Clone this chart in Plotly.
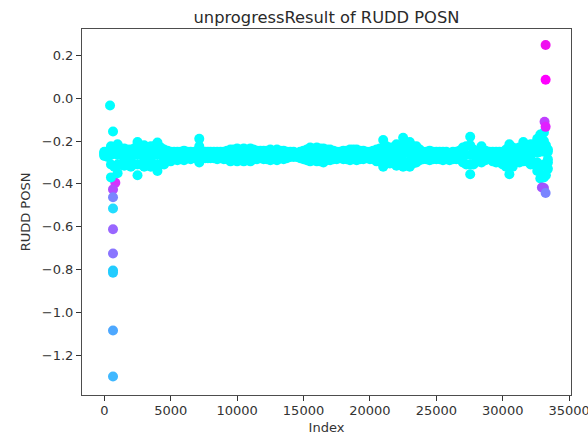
import plotly.graph_objects as go

# cyan band, one column of readings per index position
band_index = [0, 500, 1000, 1500, 2000, 2500, 3000, 3500, 4000, 4500, 5000, 5500, 6000, 6500,
              7150, 7600, 8000, 8500, 9000, 9500, 10000, 10500, 11000, 11500, 12000, 12500, 13000, 13500,
              14000, 14500, 15000, 15500, 16000, 16500, 17000, 17500, 18000, 18500, 19000, 19500, 20000, 20500,
              21000, 21500, 22000, 22500, 23000, 23500, 24000, 24500, 25000, 25500, 26000, 26500, 27000, 27550,
              28000, 28400, 29000, 29500, 30000, 30500, 31000, 31550, 32100, 32600, 32830, 33100, 33400]
band_top = [-0.25, -0.225, -0.215, -0.235, -0.24, -0.205, -0.22, -0.225, -0.207, -0.24, -0.25, -0.25, -0.245, -0.25,
            -0.19, -0.25, -0.25, -0.25, -0.25, -0.24, -0.235, -0.235, -0.235, -0.245, -0.245, -0.24, -0.24, -0.245,
            -0.25, -0.255, -0.245, -0.23, -0.23, -0.235, -0.24, -0.25, -0.245, -0.24, -0.24, -0.245, -0.25, -0.24,
            -0.195, -0.23, -0.215, -0.185, -0.205, -0.225, -0.25, -0.245, -0.25, -0.25, -0.255, -0.25, -0.23, -0.18,
            -0.25, -0.225, -0.25, -0.25, -0.25, -0.215, -0.235, -0.205, -0.215, -0.19, -0.17, -0.16, -0.24]
band_upper = [-0.255, -0.24, -0.235, -0.25, -0.25, -0.235, -0.24, -0.24, -0.235, -0.25, -0.255, -0.255, -0.255, -0.255,
              -0.225, -0.255, -0.255, -0.255, -0.255, -0.25, -0.25, -0.25, -0.25, -0.255, -0.255, -0.25, -0.25, -0.255,
              -0.255, -0.26, -0.255, -0.245, -0.245, -0.25, -0.25, -0.255, -0.255, -0.25, -0.25, -0.255, -0.255, -0.25,
              -0.23, -0.245, -0.24, -0.225, -0.235, -0.245, -0.255, -0.255, -0.255, -0.255, -0.26, -0.255, -0.245, -0.22,
              -0.255, -0.245, -0.255, -0.255, -0.255, -0.24, -0.25, -0.235, -0.24, -0.225, -0.21, -0.2, -0.25]
band_mid = [-0.26, -0.265, -0.265, -0.265, -0.265, -0.265, -0.265, -0.265, -0.265, -0.265, -0.265, -0.265, -0.265, -0.265,
            -0.26, -0.265, -0.265, -0.265, -0.265, -0.265, -0.265, -0.265, -0.265, -0.265, -0.265, -0.265, -0.265, -0.265,
            -0.265, -0.265, -0.265, -0.265, -0.265, -0.265, -0.265, -0.265, -0.265, -0.265, -0.265, -0.265, -0.265, -0.265,
            -0.26, -0.265, -0.26, -0.26, -0.26, -0.265, -0.265, -0.265, -0.265, -0.265, -0.265, -0.265, -0.265, -0.265,
            -0.265, -0.265, -0.265, -0.265, -0.265, -0.27, -0.265, -0.26, -0.26, -0.255, -0.25, -0.25, -0.285]
band_lower = [-0.265, -0.31, -0.31, -0.29, -0.29, -0.31, -0.29, -0.29, -0.31, -0.285, -0.28, -0.28, -0.28, -0.28,
              -0.28, -0.275, -0.275, -0.275, -0.275, -0.28, -0.28, -0.28, -0.28, -0.275, -0.275, -0.28, -0.28, -0.275,
              -0.27, -0.27, -0.275, -0.28, -0.28, -0.28, -0.275, -0.275, -0.275, -0.28, -0.28, -0.275, -0.275, -0.28,
              -0.295, -0.285, -0.29, -0.295, -0.295, -0.285, -0.275, -0.28, -0.275, -0.275, -0.275, -0.275, -0.28, -0.31,
              -0.275, -0.285, -0.275, -0.28, -0.285, -0.31, -0.285, -0.28, -0.285, -0.3, -0.32, -0.31, -0.3]
band_bottom = [-0.27, -0.37, -0.35, -0.315, -0.32, -0.36, -0.32, -0.32, -0.34, -0.31, -0.295, -0.29, -0.29, -0.285,
               -0.30, -0.28, -0.28, -0.285, -0.285, -0.295, -0.295, -0.295, -0.295, -0.285, -0.285, -0.29, -0.29, -0.285,
               -0.275, -0.275, -0.285, -0.295, -0.295, -0.30, -0.29, -0.285, -0.285, -0.29, -0.29, -0.285, -0.285, -0.295,
               -0.32, -0.305, -0.315, -0.32, -0.32, -0.30, -0.285, -0.29, -0.285, -0.29, -0.29, -0.285, -0.30, -0.355,
               -0.29, -0.30, -0.285, -0.30, -0.31, -0.355, -0.30, -0.295, -0.31, -0.34, -0.375, -0.37, -0.33]

# extra columns in the gaps between the ones above, so the band edge stays smooth
core_index = [250, 750, 1250, 1750, 2250, 2750, 3250, 3750, 4250, 4750, 5250, 5750, 6250, 6800, 7400, 7800,
              8250, 8750, 9250, 9750, 10250, 10750, 11250, 11750, 12250, 12750, 13250, 13750, 14250, 14750,
              15250, 15750, 16250, 16750, 17250, 17750, 18250, 18750, 19250, 19750, 20250, 20750, 21250, 21750,
              22250, 22750, 23250, 23750, 24250, 24750, 25250, 25750, 26250, 26750, 27250, 27800, 28200, 28700,
              29250, 29750, 30250, 30750, 31250, 31800, 32350, 32700, 32950, 33250]
core_top = [-0.25, -0.235, -0.235, -0.24, -0.235, -0.225, -0.23, -0.225, -0.23, -0.245, -0.25, -0.25, -0.25, -0.25, -0.25, -0.25,
            -0.25, -0.25, -0.245, -0.24, -0.24, -0.24, -0.24, -0.245, -0.245, -0.245, -0.245, -0.25, -0.25, -0.25,
            -0.24, -0.235, -0.235, -0.24, -0.245, -0.25, -0.245, -0.24, -0.245, -0.25, -0.245, -0.235, -0.225, -0.23,
            -0.225, -0.215, -0.225, -0.24, -0.25, -0.25, -0.25, -0.25, -0.25, -0.245, -0.225, -0.24, -0.245, -0.245,
            -0.25, -0.25, -0.24, -0.23, -0.23, -0.225, -0.215, -0.2, -0.19, -0.22]
core_bottom = [-0.275, -0.32, -0.31, -0.31, -0.31, -0.31, -0.31, -0.31, -0.31, -0.29, -0.285, -0.285, -0.28, -0.28, -0.28, -0.28,
               -0.28, -0.28, -0.285, -0.29, -0.29, -0.29, -0.285, -0.28, -0.285, -0.285, -0.28, -0.28, -0.275, -0.28,
               -0.29, -0.29, -0.295, -0.29, -0.285, -0.28, -0.285, -0.285, -0.285, -0.28, -0.285, -0.295, -0.305, -0.305,
               -0.31, -0.31, -0.305, -0.29, -0.285, -0.285, -0.285, -0.285, -0.285, -0.285, -0.31, -0.31, -0.295, -0.29,
               -0.295, -0.3, -0.32, -0.32, -0.3, -0.295, -0.31, -0.33, -0.36, -0.36]

# outliers under the band at the left, over it at the right
low_index = [430, 655, 830, 655, 655, 655, 655, 655, 655, 655, 655, 655]
low_value = [-0.034, -0.156, -0.395, -0.426, -0.463, -0.515, -0.612, -0.725, -0.805, -0.815, -1.085, -1.30]
low_color = ['#00ffff', '#00ffff', '#d633ff', '#b24dff', '#7a85ff', '#22ddff', '#9966ff', '#8a75ff', '#22ccff', '#22ccff',
             '#4da8ff', '#40b8ff']
end_index = [33230, 33230, 33150, 33230, 32950, 33100, 33230]
end_value = [0.248, 0.086, -0.11, -0.134, -0.417, -0.42, -0.443]
end_color = ['#f00ff0', '#ff00ff', '#c03fff', '#e020ff', '#a055ff', '#a055ff', '#7a85ff']

y_ticks = [0.2, 0.0, -0.2, -0.4, -0.6, -0.8, -1.0, -1.2]
y_labels = ['0.2', '0.0', '\u22120.2', '\u22120.4', '\u22120.6', '\u22120.8', '\u22121.0', '\u22121.2']
x_ticks = [0, 5000, 10000, 15000, 20000, 25000, 30000, 35000]

fig = go.Figure()

fig.add_trace(go.Scatter(x=low_index, y=low_value, mode='markers',
                         marker=dict(size=10, color=low_color, line=dict(width=0))))

for values in [band_top, band_upper, band_mid, band_lower, band_bottom]:
    fig.add_trace(go.Scatter(x=band_index, y=values, mode='markers',
                             marker=dict(size=10, color='#00ffff', line=dict(width=0))))
for values in [core_top, core_bottom]:
    fig.add_trace(go.Scatter(x=core_index, y=values, mode='markers',
                             marker=dict(size=10, color='#00ffff', line=dict(width=0))))

fig.add_trace(go.Scatter(x=end_index, y=end_value, mode='markers',
                         marker=dict(size=10, color=end_color, line=dict(width=0))))

fig.update_layout(
    width=588, height=440,
    margin=dict(l=81.7, r=17.3, t=29.3, b=44.5),
    paper_bgcolor='white', plot_bgcolor='white',
    showlegend=False,
    font=dict(family='DejaVu Sans', size=13, color='#333333'),
    title=dict(text='unprogressResult of RUDD POSN', x=0.5, xanchor='center', xref='paper',
               y=0.961, yref='container', yanchor='middle', font=dict(size=16.3, color='#2a2a2a')),
)
fig.update_xaxes(title=dict(text='Index', standoff=6, font=dict(size=13)), range=[-1680, 35140], automargin=False,
                 tickvals=x_ticks, tickformat='d', ticks='outside', ticklen=5, tickwidth=1, tickcolor='#333333',
                 ticklabeloverflow='allow', ticklabelstandoff=-2,
                 showgrid=False, zeroline=False, showline=True, linecolor='#4d4d4d', linewidth=1, mirror=True)
fig.update_yaxes(title=dict(text='RUDD POSN', standoff=8, font=dict(size=13)), range=[-1.386, 0.323], automargin=False,
                 tickvals=y_ticks, ticktext=y_labels, ticks='outside', ticklen=5, tickwidth=1, tickcolor='#333333',
                 showgrid=False, zeroline=False, showline=True, linecolor='#4d4d4d', linewidth=1, mirror=True)

# the page margin would push the figure 8px down and right
fig.write_html("out.html", config={'displayModeBar': False},
               post_script="document.body.style.margin='0';document.body.style.overflow='hidden';")
